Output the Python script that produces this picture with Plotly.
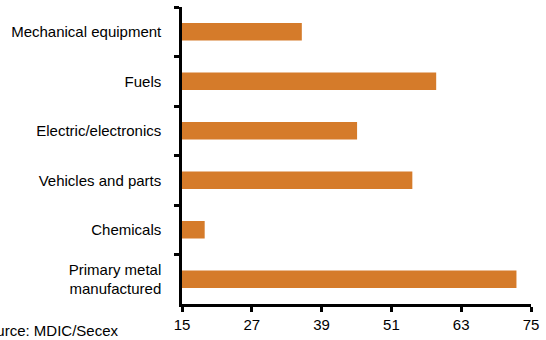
import plotly.graph_objects as go

# Product categories (top to bottom) and their values
categories = [
    "Mechanical equipment",
    "Fuels",
    "Electric/electronics",
    "Vehicles and parts",
    "Chemicals",
    "Primary metal<br>manufactured",
]
values = [35.6, 58.7, 45.1, 54.6, 18.9, 72.5]
x_ticks = [15, 27, 39, 51, 63, 75]
source_note = "Source: MDIC/Secex"

bar_color = "#D57B2A"
font_family = "Liberation Sans, Arial, sans-serif"

fig = go.Figure(
    go.Bar(
        y=categories,
        x=values,
        orientation="h",
        marker=dict(color=bar_color, line=dict(width=0)),
        width=0.35,
    )
)

fig.update_layout(
    width=546,
    height=340,
    margin=dict(l=182, r=10, t=7, b=36),
    paper_bgcolor="white",
    plot_bgcolor="white",
    showlegend=False,
    font=dict(family=font_family, size=15, color="black"),
)

fig.update_xaxes(
    range=[15, 75],
    tickvals=x_ticks,
    ticktext=[str(v) for v in x_ticks],
    showgrid=False,
    zeroline=False,
    showline=True,
    linecolor="black",
    linewidth=2.5,
    ticks="outside",
    ticklen=5,
    tickwidth=2.5,
    tickcolor="black",
    tickfont=dict(size=15),
)

fig.update_yaxes(
    categoryorder="array",
    categoryarray=categories,
    autorange="reversed",
    showgrid=False,
    zeroline=False,
    showline=True,
    linecolor="black",
    linewidth=2.5,
    ticks="outside",
    tickson="boundaries",
    ticklen=5,
    tickwidth=2.5,
    tickcolor="black",
    tickfont=dict(size=15),
    ticklabelstandoff=15,
)

fig.add_annotation(
    text=source_note,
    xref="paper",
    yref="paper",
    x=-0.59,
    y=-0.088,
    xanchor="left",
    yanchor="middle",
    showarrow=False,
    font=dict(size=15, family=font_family),
)

fig.write_html("out.html")
